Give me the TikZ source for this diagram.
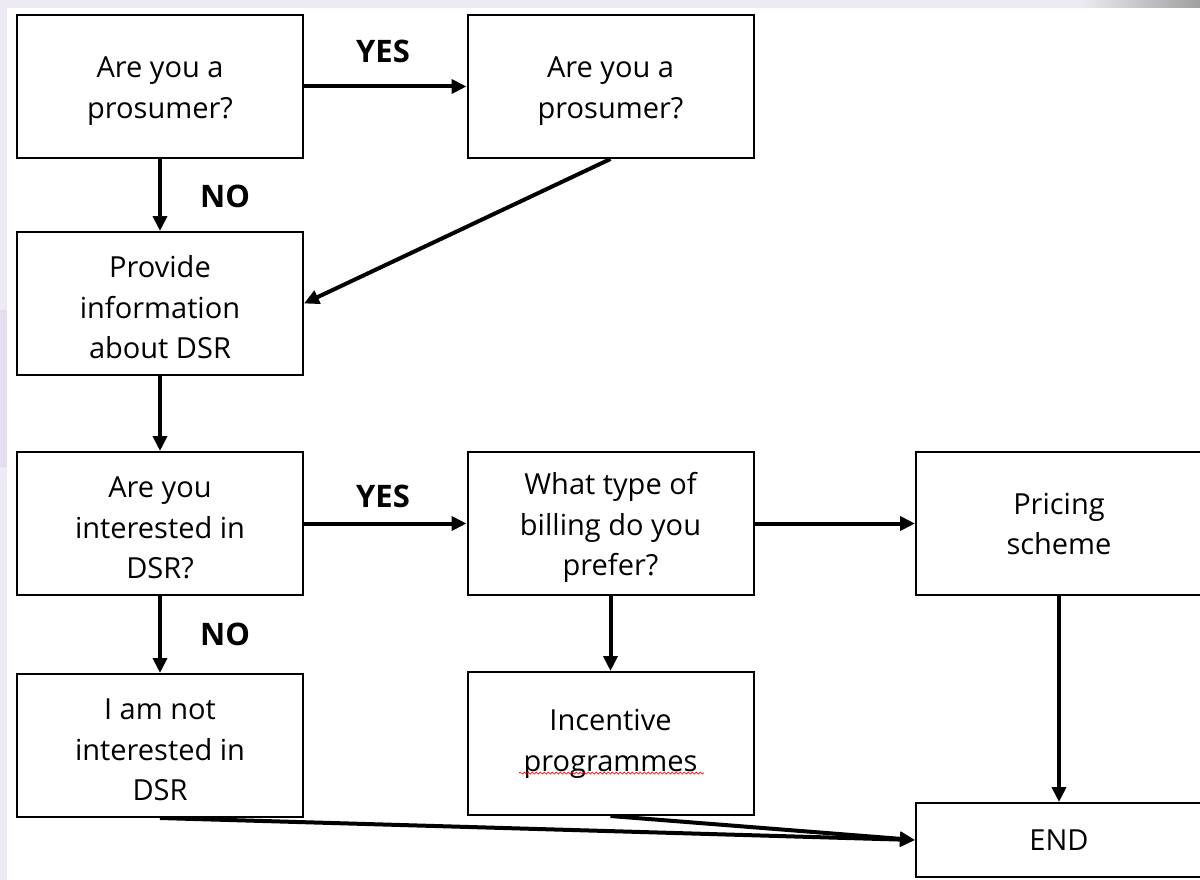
\documentclass[tikz,border=0pt]{standalone}
\usepackage{fontspec}
\setmainfont{Open Sans}
\usetikzlibrary{arrows.meta,decorations.pathmorphing}
\definecolor{lav}{HTML}{EEEAF4}
\definecolor{lavdark}{HTML}{E3DDEE}
\newcommand\firststrut{\rule{0pt}{30pt}}
\newcommand\lowstrut{\rule{0pt}{22pt}}
\begin{document}
\begin{tikzpicture}[x=1pt,y=-1pt,
 box/.style={draw=black, line width=2pt, fill=white, minimum width=286pt, minimum height=143pt, align=center, inner sep=0pt, font=\fontsize{29}{40.5}\selectfont},
 arr/.style={line width=4pt, -{Triangle[length=15pt,width=14pt]}},
 lab/.style={font=\fontsize{31}{34}\selectfont\bfseries, inner sep=0pt}]
\fill[white] (0,0) rectangle (1200,880);
\fill[lav] (0,0) rectangle (1200,8);
\shade[left color=lav, right color=gray!75] (1080,0) rectangle (1200,8);
\fill[lav] (0,0) rectangle (7,880);
\fill[lavdark] (0,310) rectangle (7,467);
\useasboundingbox (0,0) rectangle (1200,880);

\node[box] (q1) at (160,86.5) {\firststrut Are you a\\prosumer?};
\node[box] (q2) at (610.5,86.5) {\firststrut Are you a\\prosumer?};
\node[box] (info) at (160,303.5) {\firststrut Provide\\information\\about DSR};
\node[box] (q3) at (160,523.5) {\firststrut Are you\\interested in\\DSR?};
\node[box] (bill) at (610.5,523.5) {\firststrut What type of\\billing do you\\prefer?};
\node[box] (price) at (1059,523.5) {\lowstrut Pricing\\scheme};
\node[box] (notint) at (160,745.5) {\firststrut I am not\\interested in\\DSR};
\node[box] (inc) at (610.5,743.5) {\lowstrut Incentive\\programmes};
\node[box, minimum height=74pt] (end) at (1059,840) {END};

\draw[red, line width=0.7pt, decorate, decoration={snake, amplitude=1pt, segment length=4pt}] (519,773) -- (704,773);

\draw[arr] (q1.east) -- (q2.west);
\draw[arr] (q1.south) -- (info.north);
\draw[arr] (q2.south) -- (info.east);
\draw[arr] (info) -- (q3);
\draw[arr] (q3) -- (bill);
\draw[arr] (bill) -- (price);
\draw[arr] (q3) -- (notint);
\draw[arr] (bill) -- (inc);
\draw[arr] (price) -- (end);
\draw[arr] (notint.south) -- (end.west);
\draw[arr] (inc.south) -- (end.west);

\node[lab] (yes1) at (383,51) {YES};
\node[lab] (no1) at (225,196) {NO};
\node[lab] (yes2) at (383,496) {YES};
\node[lab] (no2) at (225,634) {NO};
\end{tikzpicture}
\end{document}
